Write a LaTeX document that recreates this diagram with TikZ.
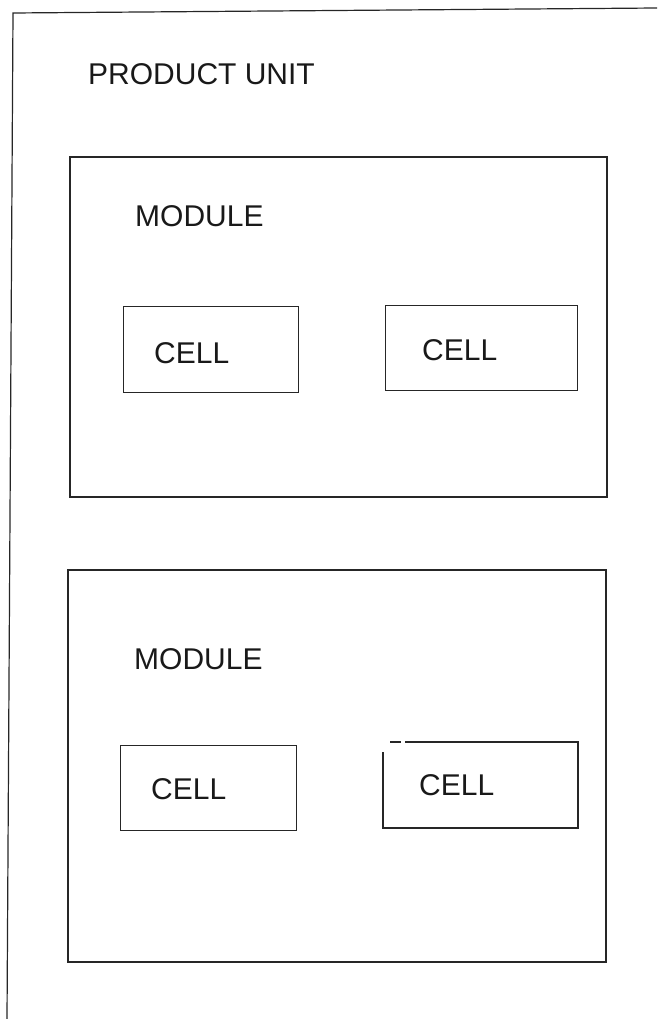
\documentclass[tikz,border=0pt]{standalone}
\usepackage{fontspec}
\setmainfont{Liberation Sans}
\begin{document}
\begin{tikzpicture}[x=1pt,y=-1pt,
  box/.style={draw=black!85,line width=1.2pt},
  lbl/.style={anchor=west,inner sep=0pt,font=\fontsize{30}{33}\selectfont,text=black!90}]
\useasboundingbox (0,0) rectangle (657,1019);
% outer product unit (open at right and bottom)
\coordinate (ptl) at (13,13);
\coordinate (ptr) at (657,8);
\coordinate (pbl) at (7,1019);
\draw[box] (ptr) -- (ptl) -- (pbl);
\node[lbl] (pu) at (88,74) {PRODUCT UNIT};
% module 1
\draw[box] (70,157) rectangle (607,497);
\node[lbl] (m1) at (135,216) {MODULE};
\node[box,minimum width=175pt,minimum height=86pt,anchor=north west,inner sep=0pt] (c1a) at (123,306) {};
\node[lbl] (t1a) at (154,353) {CELL};
\node[box,minimum width=192pt,minimum height=85pt,anchor=north west,inner sep=0pt] (c1b) at (385,305) {};
\node[lbl] (t1b) at (422,350) {CELL};
% module 2
\draw[box] (68,570) rectangle (606,962);
\node[lbl] (m2) at (134,659) {MODULE};
\node[box,minimum width=176pt,minimum height=85pt,anchor=north west,inner sep=0pt] (c2a) at (120,745) {};
\node[lbl] (t2a) at (151,789) {CELL};
\coordinate (c2bl) at (383,828);
\coordinate (c2blt) at (383,752);
\coordinate (c2tl) at (405,742);
\coordinate (c2tr) at (578,742);
\coordinate (c2br) at (578,828);
\draw[box] (c2blt) -- (c2bl) -- (c2br) -- (c2tr) -- (c2tl);
\draw[box] (390,742) -- (401,742);
\node[lbl] (t2b) at (419,785) {CELL};
\end{tikzpicture}
\end{document}
